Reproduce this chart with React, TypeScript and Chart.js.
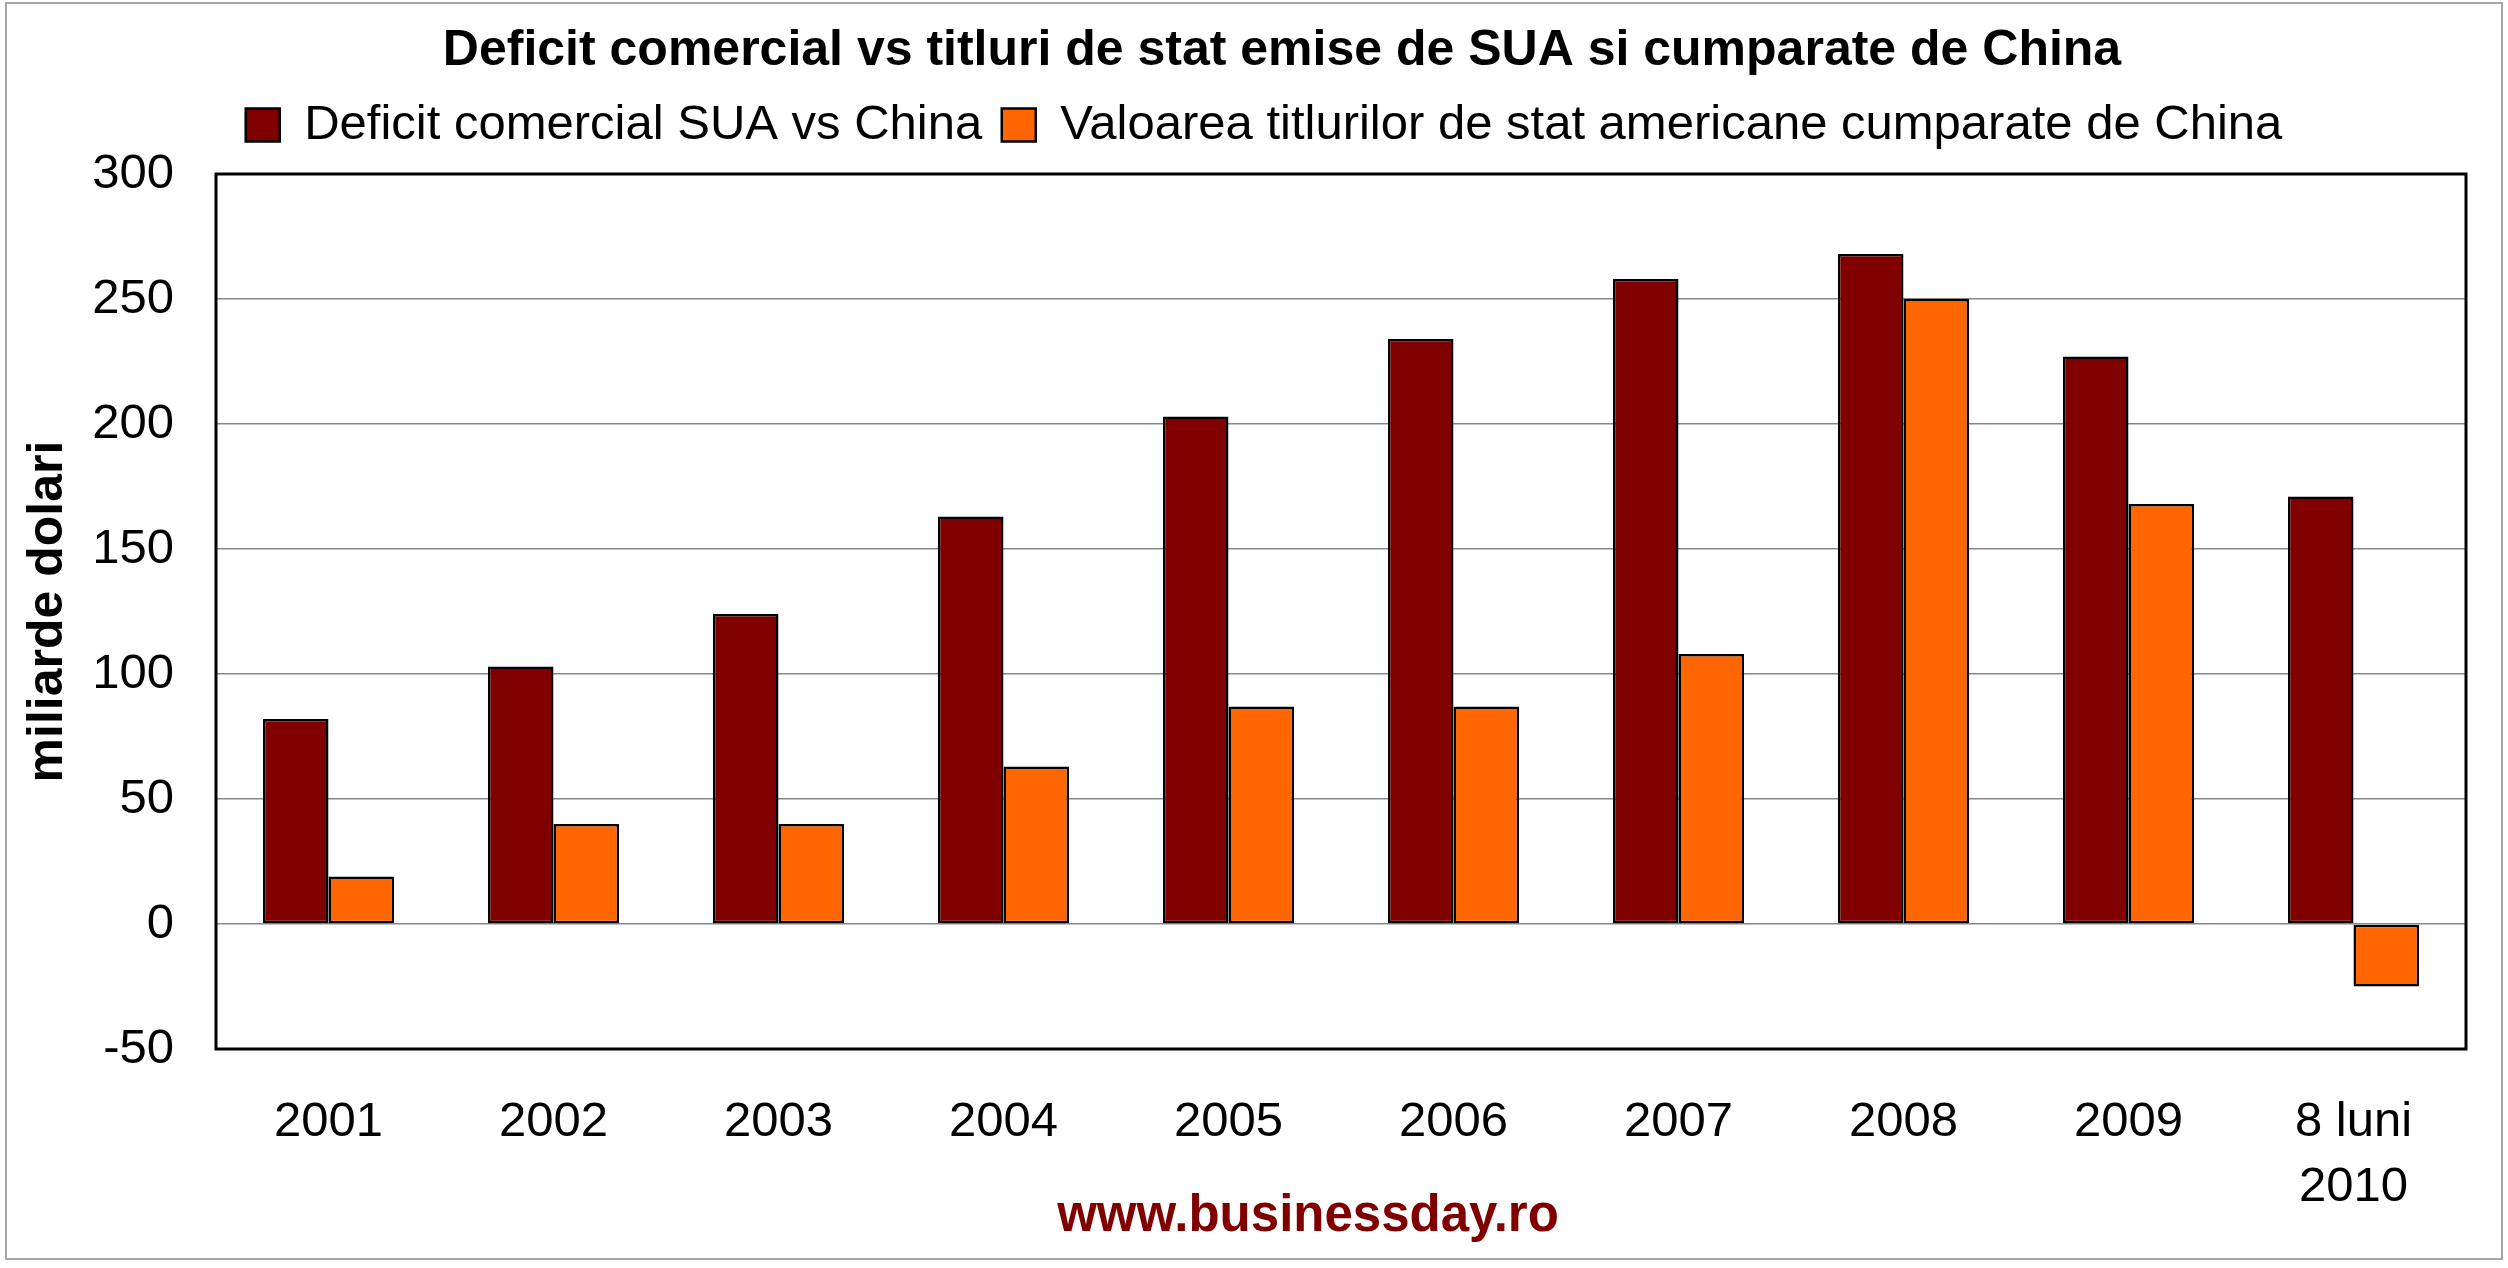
import { useEffect, useRef } from 'react';
import { Chart, registerables } from 'chart.js';

Chart.register(...registerables);

const years: (string | string[])[] = ['2001', '2002', '2003', '2004', '2005', '2006', '2007', '2008', '2009', ['8 luni', '2010']];
const deficit = [82, 103, 124, 163, 203, 234, 258, 268, 227, 171];
const titluri = [19, 40, 40, 63, 87, 87, 108, 250, 168, -25];
const yMin = -50;
const yMax = 300;
const yStep = 50;

const title = 'Deficit comercial vs titluri de stat emise de SUA si cumparate de China';
const seriesNames = ['Deficit comercial SUA vs China', 'Valoarea titlurilor de stat americane cumparate de China'];
const yTitle = 'miliarde dolari';
const source = 'www.businessday.ro';

const darkRed = '#800000';
const orange = '#ff6600';

function move(box: any, dx: number, dy: number) {
  if (!box) return;
  box.left += dx;
  box.right += dx;
  box.top += dy;
  box.bottom += dy;
}

// title, legend and source line sit a little off the positions chart.js gives them
const nudge = {
  id: 'nudge',
  afterLayout(chart: any) {
    move(chart.titleBlock, 49, -14.5);
    move(chart.legend, 31, -14.5);
    const sub = chart.boxes.find((b: any) => b.options && b.options.text === source);
    move(sub, 75, -30.6);
  },
};

const frame = {
  id: 'frame',
  beforeDraw(chart: any) {
    const { ctx, width, height } = chart;
    ctx.save();
    ctx.fillStyle = '#fff';
    ctx.fillRect(0, 0, width, height);
    ctx.strokeStyle = '#a6a6a6';
    ctx.lineWidth = 2;
    ctx.strokeRect(6, 3, 2496, 1256);
    ctx.restore();
  },
  afterDatasetsDraw(chart: any) {
    const { ctx, chartArea: a } = chart;
    ctx.save();
    ctx.strokeStyle = '#000';
    ctx.lineWidth = 3;
    ctx.strokeRect(a.left, a.top, a.right - a.left, a.bottom - a.top);
    ctx.restore();
  },
};

export default function App() {
  const ref = useRef<HTMLCanvasElement>(null);

  useEffect(() => {
    if (!ref.current) return;
    Chart.defaults.font.family = '"Liberation Sans", Arial, sans-serif';
    Chart.defaults.color = '#000';
    const chart = new Chart(ref.current, {
      type: 'bar',
      data: {
        labels: years,
        datasets: [
          { label: seriesNames[0], data: deficit, backgroundColor: darkRed, borderColor: '#000', borderWidth: 2.5, borderSkipped: false },
          { label: seriesNames[1], data: titluri, backgroundColor: orange, borderColor: '#000', borderWidth: 2.5, borderSkipped: false },
        ],
      },
      options: {
        responsive: true,
        maintainAspectRatio: false,
        animation: false,
        layout: { padding: { top: 14.5, left: 0, right: 42, bottom: 0 } },
        datasets: { bar: { categoryPercentage: 0.583, barPercentage: 1 } },
        plugins: {
          title: {
            display: true,
            text: title,
            font: { size: 50, weight: 'bold', lineHeight: 1.2 },
            color: '#000',
            padding: { top: 21, bottom: 0 },
          },
          legend: {
            position: 'top',
            labels: { font: { size: 49 }, boxWidth: 34, boxHeight: 33, padding: 19.5, color: '#000' },
          },
          subtitle: {
            display: true,
            position: 'bottom',
            text: source,
            color: darkRed,
            font: { size: 51, weight: 'bold', lineHeight: 0.8 },
            padding: { top: 0, bottom: 0 },
          },
          tooltip: { enabled: false },
        },
        scales: {
          x: {
            grid: { display: false },
            border: { display: false },
            ticks: { font: { size: 49, lineHeight: 1.33 }, padding: 33, color: '#000', maxRotation: 0 },
            afterFit: (s: any) => { s.height = 178.2; },
          },
          y: {
            min: yMin,
            max: yMax,
            ticks: { stepSize: yStep, font: { size: 49 }, padding: 42, color: '#000' },
            grid: { color: '#878787', lineWidth: 1.5, drawTicks: false },
            border: { display: false },
            title: {
              display: true,
              text: yTitle,
              font: { size: 50, weight: 'bold', lineHeight: 1.2 },
              color: '#000',
              padding: { top: 18, bottom: 0 },
            },
            afterFit: (s: any) => { s.width = 216; },
          },
        },
      },
      plugins: [nudge, frame],
    });
    return () => chart.destroy();
  }, []);

  return (
    <div style={{ position: 'fixed', left: 0, top: 0, width: 2508, height: 1268, background: '#fff' }}>
      <canvas ref={ref} />
    </div>
  );
}
